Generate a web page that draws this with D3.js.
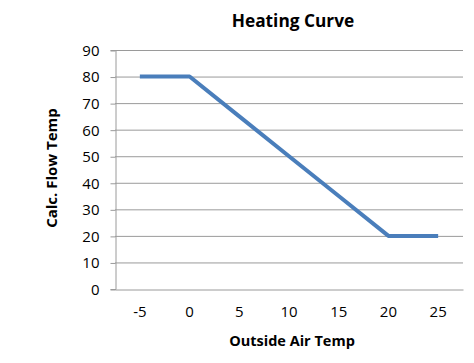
<!DOCTYPE html>
<html><head><meta charset="utf-8">
<script src="https://cdn.jsdelivr.net/npm/d3@7"></script>
<style>body{margin:0;background:#fff}text{font-family:"Open Sans","Liberation Sans",sans-serif}</style>
</head><body>
<svg id="c" width="474" height="363"></svg>
<script>
const categories = ["-5","0","5","10","15","20","25"];
const flowTemp = [80,80,65,50,35,20,20];
const yTicks = [0,10,20,30,40,50,60,70,80,90];
const title = "Heating Curve";
const xTitle = "Outside Air Temp";
const yTitle = "Calc. Flow Temp";

const svg = d3.select("#c");
const L=115, R=463, T=50, B=289;
const x = d3.scaleBand().domain(categories).range([L,R]);
const y = d3.scaleLinear().domain([0,90]).range([B,T]);
const grid="#9a9a9a";

svg.append("g").selectAll("line").data(yTicks.filter(d=>d>0)).join("line")
  .attr("x1",L).attr("x2",R).attr("y1",d=>y(d)+0.5).attr("y2",d=>y(d)+0.5)
  .attr("stroke",grid).attr("stroke-width",1);

const ya = svg.append("g").attr("transform",`translate(${L+0.5},0)`)
  .call(d3.axisLeft(y).tickValues(yTicks).tickSize(5).tickPadding(11));
ya.select(".domain").attr("stroke",grid);
ya.selectAll(".tick line").attr("stroke",grid).attr("transform","translate(0,0.5)");
ya.selectAll("text").attr("font-size",15).attr("fill","#000").attr("dy","0.36em");

const xa = svg.append("g").attr("transform",`translate(0,${B+0.5})`)
  .call(d3.axisBottom(x).tickSize(0).tickPadding(17));
xa.select(".domain").attr("stroke",grid);
xa.selectAll("text").attr("font-size",15).attr("fill","#000");

const line = d3.line().x((d,i)=>x(categories[i])+x.bandwidth()/2).y(d=>y(d));
svg.append("path").datum(flowTemp).attr("d",line).attr("fill","none")
  .attr("stroke","#4a7ebb").attr("stroke-width",4).attr("stroke-linejoin","round");

svg.append("text").attr("x",293).attr("y",27).attr("text-anchor","middle")
  .attr("font-size",17.3).attr("font-weight","bold").text(title);
svg.append("text").attr("x",292).attr("y",346).attr("text-anchor","middle")
  .attr("font-size",14.5).attr("font-weight","bold").text(xTitle);
svg.append("text").attr("transform","translate(57,168) rotate(-90)").attr("text-anchor","middle")
  .attr("font-size",15).attr("font-weight","bold").text(yTitle);
</script>
</body></html>
